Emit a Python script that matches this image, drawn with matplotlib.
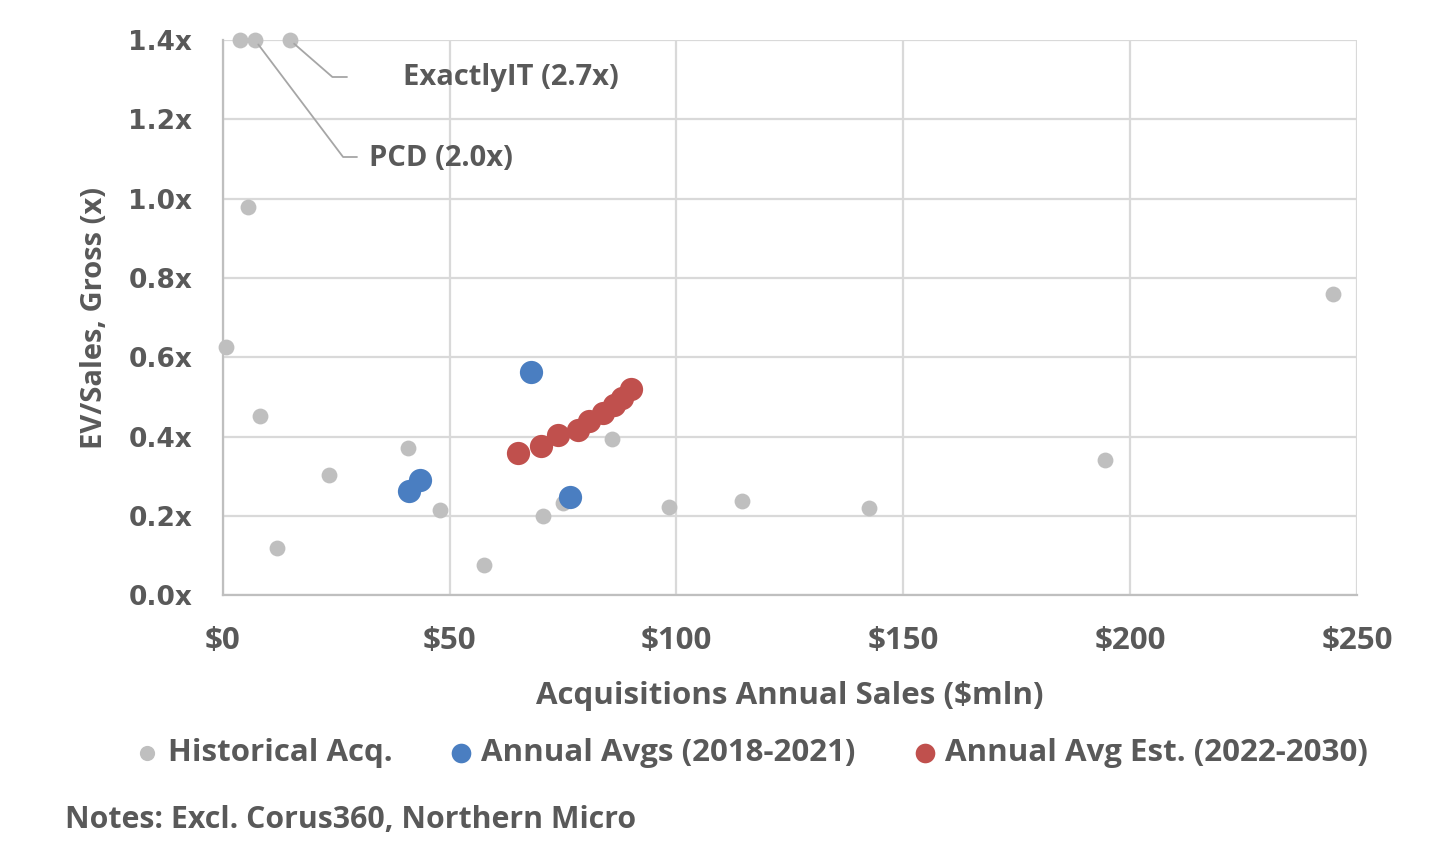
import matplotlib
matplotlib.use('Agg')
import matplotlib.pyplot as plt
from matplotlib.ticker import FuncFormatter

# Historical acquisitions (values above 1.4x are shown capped at the top)
hist_sales = [3.8, 7.1, 14.8, 5.5, 0.7, 8.2, 40.9, 23.4, 47.9, 12.0, 57.6,
              70.5, 75.0, 85.7, 98.4, 114.4, 142.4, 194.5, 244.7]
hist_mult = [1.40, 1.40, 1.40, 0.98, 0.625, 0.452, 0.372, 0.303, 0.216, 0.119, 0.076,
             0.200, 0.232, 0.393, 0.222, 0.239, 0.221, 0.342, 0.760]

# Annual averages 2018-2021
avg_sales = [67.9, 41.1, 43.5, 76.6]
avg_mult = [0.563, 0.262, 0.291, 0.247]

# Annual average estimates 2022-2030
est_sales = [65.0, 70.2, 73.8, 78.2, 80.8, 83.7, 86.3, 88.1, 90.0]
est_mult = [0.360, 0.377, 0.404, 0.418, 0.439, 0.460, 0.481, 0.498, 0.519]

x_ticks = [0, 50, 100, 150, 200, 250]
y_ticks = [0.0, 0.2, 0.4, 0.6, 0.8, 1.0, 1.2, 1.4]

TXT = '#595959'
FONT = 'Open Sans'
FS = 22.5

fig = plt.figure(figsize=(14.52, 8.52), dpi=100)
ax = fig.add_axes([0.1534, 0.3013, 0.7812, 0.6517])

ax.scatter(hist_sales, hist_mult, s=130, color='#BFBFBF', linewidths=0,
           label='Historical Acq.', clip_on=False, zorder=3)
ax.scatter(avg_sales, avg_mult, s=280, color='#4A7EC1', linewidths=0,
           label='Annual Avgs (2018-2021)', clip_on=False, zorder=4)
ax.scatter(est_sales, est_mult, s=280, color='#C0504D', linewidths=0,
           label='Annual Avg Est. (2022-2030)', clip_on=False, zorder=5)

ax.set_xlim(0, 250)
ax.set_ylim(0, 1.4)
ax.set_xticks(x_ticks)
ax.set_yticks(y_ticks)
ax.xaxis.set_major_formatter(FuncFormatter(lambda v, p: '$%d' % v))
ax.yaxis.set_major_formatter(FuncFormatter(lambda v, p: '%.1fx' % v))
ax.grid(True, color='#D9D9D9', linewidth=1.6, zorder=0)
ax.set_axisbelow(True)
for s in ['top', 'right']:
    ax.spines[s].set_visible(False)
for s in ['left', 'bottom']:
    ax.spines[s].set_color('#BFBFBF')
    ax.spines[s].set_linewidth(1.6)
ax.tick_params(axis='x', length=0, pad=22, colors=TXT)
ax.tick_params(axis='y', length=0, pad=22, colors=TXT)
for lab in ax.get_xticklabels():
    lab.set_fontfamily(FONT)
    lab.set_fontweight('bold')
    lab.set_fontsize(FS)
for lab in ax.get_yticklabels():
    lab.set_fontfamily('DejaVu Sans')
    lab.set_fontweight('bold')
    lab.set_fontsize(19)

ax.set_xlabel('Acquisitions Annual Sales ($mln)', fontfamily=FONT, fontweight='bold',
              fontsize=FS, color=TXT, labelpad=18)
ax.set_ylabel('EV/Sales, Gross (x)', fontfamily=FONT, fontweight='bold',
              fontsize=21, color=TXT, labelpad=14)

# leader lines for the off-scale deals
H = 852
ax.annotate('', xy=(hist_sales[2], hist_mult[2]), xycoords='data',
            xytext=(347, H - 77), textcoords='figure pixels', annotation_clip=False,
            arrowprops=dict(arrowstyle='-', color='#A6A6A6', lw=1.3,
                            connectionstyle='angle,angleA=0,angleB=-41,rad=0',
                            shrinkA=0, shrinkB=4))
ax.annotate('', xy=(hist_sales[1], hist_mult[1]), xycoords='data',
            xytext=(357, H - 157), textcoords='figure pixels', annotation_clip=False,
            arrowprops=dict(arrowstyle='-', color='#A6A6A6', lw=1.3,
                            connectionstyle='angle,angleA=0,angleB=-53,rad=0',
                            shrinkA=0, shrinkB=4))
fig.text(403 / 1452, 1 - 78 / H, 'ExactlyIT (2.7x)', fontfamily=FONT, fontweight='bold',
         fontsize=21, color=TXT, ha='left', va='center')
fig.text(369 / 1452, 1 - 158 / H, 'PCD (2.0x)', fontfamily=FONT, fontweight='bold',
         fontsize=21, color=TXT, ha='left', va='center')

leg = fig.legend(loc='center', bbox_to_anchor=(0.511, 1 - 753 / H), ncol=3,
                 frameon=False, handletextpad=-0.35, columnspacing=1.2,
                 prop={'family': FONT, 'weight': 'bold', 'size': FS})
for t in leg.get_texts():
    t.set_color(TXT)
for h in leg.legend_handles:
    h.set_sizes([200])
leg.legend_handles[0].set_sizes([120])

fig.text(65 / 1452, 1 - 820 / H, 'Notes: Excl. Corus360, Northern Micro',
         fontfamily=FONT, fontweight='bold', fontsize=21.8, color=TXT,
         ha='left', va='center')

fig.savefig('out.png', dpi=100)
